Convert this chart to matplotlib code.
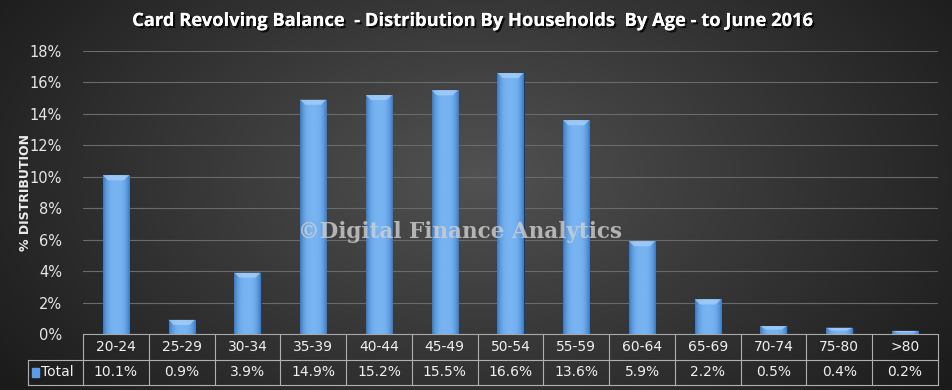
import numpy as np
import matplotlib
matplotlib.use("Agg")
import matplotlib.pyplot as plt
import matplotlib.patheffects as pe
from matplotlib.transforms import blended_transform_factory
from matplotlib.patches import Rectangle, Polygon

# ---------- DATA ----------
age_groups = ["20-24", "25-29", "30-34", "35-39", "40-44", "45-49", "50-54",
              "55-59", "60-64", "65-69", "70-74", "75-80", ">80"]
share_pct = [10.1, 0.9, 3.9, 14.9, 15.2, 15.5, 16.6, 13.6, 5.9, 2.2, 0.5, 0.4, 0.2]
y_ticks = [0, 2, 4, 6, 8, 10, 12, 14, 16, 18]
series_name = "Total"
title = "Card Revolving Balance  - Distribution By Households  By Age - to June 2016"

W, H = 952, 390
fig = plt.figure(figsize=(W / 100, H / 100), dpi=100)

# ---------- background (radial grey gradient) ----------
bg = fig.add_axes([0, 0, 1, 1])
yy, xx = np.mgrid[0:H, 0:W]
r = np.sqrt(((xx - W * 0.5) / (W * 0.55)) ** 2 + ((yy - H * 0.45) / (H * 0.8)) ** 2)
shade = np.clip(0.32 - 0.19 * r, 0.1, 0.34)
bg.imshow(np.dstack([shade] * 3), aspect="auto", extent=[0, 1, 0, 1])
bg.set_axis_off()

# ---------- main axes ----------
left, right, top, bottom = 83, 938, 51, 334
ax = fig.add_axes([left / W, 1 - bottom / H, (right - left) / W, (bottom - top) / H])
ax.patch.set_alpha(0)
x = np.arange(len(age_groups))
ax.set_xlim(-0.5, len(age_groups) - 0.5)
ax.set_ylim(0, 18)
ax.set_yticks(y_ticks)
ax.set_yticklabels([f"{t}%" for t in y_ticks], color="#e6e6e6", fontsize=10.5)
ax.set_xticks([])
ax.tick_params(axis="y", length=0, pad=15)
for s in ["top", "right", "left"]:
    ax.spines[s].set_visible(False)
ax.spines["bottom"].set_color("#a8a8a8")
ax.grid(axis="y", color="#6a6a6a", linewidth=0.8)
ax.set_axisbelow(True)
ax.set_ylabel("% DISTRIBUTION", color="#ececec", fontsize=9, fontweight="bold")
ax.yaxis.set_label_coords(-51 / (right - left), 0.5)

bars = ax.bar(x, share_pct, width=0.4, color="#5a9de6", edgecolor="#1c3e66", linewidth=0.8, zorder=3)
grad = np.linspace(-1, 1, 64)
grad = 1 - np.abs(grad) ** 3
cmap = matplotlib.colors.LinearSegmentedColormap.from_list("b", ["#3a78c0", "#78b4f2"])
for b in bars:
    bx, by, bw, bh = b.get_x(), b.get_y(), b.get_width(), b.get_height()
    im = ax.imshow(grad[None, :], cmap=cmap, aspect="auto", zorder=3.5,
                   extent=[bx, bx + bw, by, by + bh])
    im.set_clip_path(b)
    # bevelled top cap
    cap = min(0.32, bh * 0.45)
    top_y = by + bh
    ax.add_patch(Polygon([(bx, top_y), (bx + bw, top_y),
                          (bx + bw * 0.8, top_y - cap), (bx + bw * 0.2, top_y - cap)],
                         closed=True, color="#a8d0f8", alpha=0.75, zorder=4, linewidth=0))
ax.set_ylim(0, 18)

# ---------- watermark ----------
fig.text(460 / W, 1 - 232 / H, "\u00a9Digital Finance Analytics", ha="center", va="center",
         fontsize=15.5, fontweight="heavy", family="DejaVu Serif", color="#d0d0d0", alpha=0.8)

# ---------- title ----------
fig.text(474 / W, 1 - 21 / H, title, ha="center", va="center", fontsize=13.2,
         fontweight="bold", color="white", family="Open Sans",
         path_effects=[pe.withSimplePatchShadow(offset=(1.5, -1.5), shadow_rgbFace="black", alpha=0.8),
                       pe.Normal()])

# ---------- data table ----------
tr = blended_transform_factory(ax.transData, ax.transAxes)
ph = bottom - top
pw = right - left
row1 = -26 / ph
row2 = -51 / ph
lc = "#b0b0b0"
edges = np.arange(len(age_groups) + 1) - 0.5
for e in edges:
    ax.plot([e, e], [0, row2], transform=tr, color=lc, lw=0.8, clip_on=False)
ax.plot([edges[0], edges[-1]], [row2, row2], transform=tr, color=lc, lw=0.8, clip_on=False)
lab_left = -55 / pw
ax.plot([lab_left, 1], [row1, row1], transform=ax.transAxes, color=lc, lw=0.8, clip_on=False)
ax.plot([lab_left, 0], [row2, row2], transform=ax.transAxes, color=lc, lw=0.8, clip_on=False)
ax.plot([lab_left, lab_left], [row1, row2], transform=ax.transAxes, color=lc, lw=0.8, clip_on=False)
for i, (g, v) in enumerate(zip(age_groups, share_pct)):
    ax.text(i, row1 / 2, g, transform=tr, ha="center", va="center", color="#f0f0f0", fontsize=10)
    ax.text(i, (row1 + row2) / 2, f"{v:.1f}%", transform=tr, ha="center", va="center",
            color="#f0f0f0", fontsize=10)
ax.add_patch(Rectangle((lab_left + 4 / pw, (row1 + row2) / 2 - 4 / ph),
                       7 / pw, 9 / ph, transform=ax.transAxes,
                       color="#5a9de6", clip_on=False))
ax.text(lab_left + 13 / pw, (row1 + row2) / 2, series_name, transform=ax.transAxes,
        ha="left", va="center", color="#f0f0f0", fontsize=10)

fig.savefig("out.png", dpi=100)
